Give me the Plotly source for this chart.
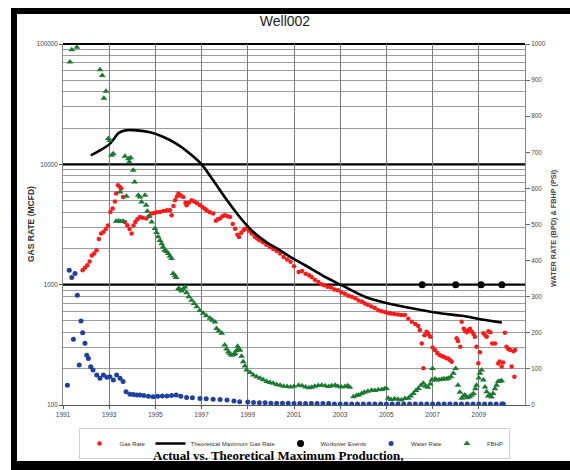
import plotly.graph_objects as go

# ---------------- data ----------------
gas_years = [1991.85, 1991.95, 1992.05, 1992.15, 1992.25, 1992.35, 1992.45, 1992.55, 1992.65, 1992.75,
             1992.85, 1992.95, 1993.05, 1993.15, 1993.25, 1993.3, 1993.38, 1993.45, 1993.52, 1993.6,
             1993.68, 1993.78, 1993.88, 1993.97, 1994.05, 1994.13, 1994.22, 1994.33, 1994.45, 1994.6,
             1994.72, 1994.84, 1994.95, 1995.05, 1995.2, 1995.35, 1995.5, 1995.63, 1995.7, 1995.78,
             1995.85, 1995.93, 1996.0, 1996.1, 1996.2, 1996.3, 1996.35, 1996.45, 1996.57, 1996.68,
             1996.8, 1996.93, 1997.05, 1997.15, 1997.22, 1997.35, 1997.5, 1997.62, 1997.7, 1997.8,
             1997.9, 1998.0, 1998.12, 1998.23, 1998.35, 1998.45, 1998.55, 1998.62, 1998.72, 1998.82,
             1998.9, 1999.05, 1999.17, 1999.3, 1999.4, 1999.5, 1999.65, 1999.8, 1999.96, 2000.1,
             2000.25, 2000.4, 2000.55, 2000.7, 2000.85, 2001.0, 2001.2, 2001.35, 2001.5, 2001.65,
             2001.76, 2001.9, 2002.05, 2002.2, 2002.3, 2002.45, 2002.6, 2002.75, 2002.9, 2003.05,
             2003.2, 2003.35, 2003.5, 2003.65, 2003.8, 2003.95, 2004.07, 2004.2, 2004.35, 2004.5,
             2004.65, 2004.8, 2004.95, 2005.1, 2005.2, 2005.35, 2005.5, 2005.65, 2005.8, 2005.95,
             2006.1, 2006.25, 2006.38, 2006.45, 2006.53, 2006.6, 2006.65, 2006.74, 2006.82, 2006.9,
             2007.0, 2007.1, 2007.2, 2007.3, 2007.4, 2007.5, 2007.6, 2007.68, 2007.76, 2007.83,
             2008.04, 2008.1, 2008.2, 2008.26, 2008.35, 2008.42, 2008.48, 2008.55, 2008.62, 2008.7,
             2008.77, 2008.83, 2008.9, 2008.98, 2009.05, 2009.2, 2009.27, 2009.34, 2009.42, 2009.5,
             2009.58, 2009.7, 2009.84, 2009.9, 2009.99, 2010.05, 2010.13, 2010.2, 2010.28, 2010.35,
             2010.42, 2010.5, 2010.57, 2010.54]
gas_rate = [1320, 1380, 1450, 1560, 1750, 1815, 1930, 2400, 2660, 2740,
            2900, 3100, 4020, 4290, 4900, 5710, 6700, 6500, 6290, 5350,
            3320, 3120, 2900, 2660, 3100, 3320, 3500, 3650, 3600, 3540,
            3700, 3900, 3950, 4000, 4020, 4100, 4150, 4150, 3770, 4500,
            5030, 5400, 5710, 5500, 5350, 4800, 4570, 4800, 5030, 4900,
            4750, 4570, 4400, 4250, 4150, 4000, 3900, 3400, 3500, 3540,
            3700, 3770, 3700, 3650, 3200, 2920, 2600, 2490, 2700, 2850,
            2920, 2800, 2660, 2500, 2420, 2340, 2250, 2150, 2060, 1980,
            1900, 1815, 1700, 1620, 1550, 1420, 1277, 1300, 1230, 1200,
            1160, 1100, 1050, 1010, 990, 960, 950, 910, 900, 860,
            840, 810, 793, 770, 740, 720, 698, 680, 660, 640,
            614, 600, 590, 580, 577, 570, 565, 560, 559, 520,
            491, 470, 453, 420, 325, 202, 380, 407, 390, 369,
            300, 286, 270, 260, 255, 250, 245, 244, 236, 229,
            358, 340, 305, 491, 430, 410, 402, 420, 430, 407,
            390, 369, 305, 222, 275, 395, 381, 369, 410, 402,
            325, 325, 221, 230, 209, 225, 398, 305, 292, 288,
            209, 280, 286, 172]

theo_years = [1992.2, 1992.6, 1993.0, 1993.18, 1993.4, 1993.7, 1994.2, 1994.77, 1995.35, 1995.9,
              1996.5, 1997.0, 1997.5, 1998.1, 1998.65, 1999.24, 1999.8, 2000.4, 2000.8, 2001.48,
              2002.34, 2003.06, 2004.07, 2005.08, 2006.38, 2007.4, 2008.26, 2009.12, 2010.0]
theo_rate = [11880, 13070, 14650, 16030, 18180, 19150, 19150, 18440, 16860, 14860,
             12270, 10000, 7360, 5030, 3650, 2740, 2260, 1930, 1720, 1450,
             1160, 990, 793, 698, 622, 576, 551, 514, 485]

work_years = [2006.55, 2008.0, 2009.1, 2010.0]
work_rate = [1000, 1000, 1000, 1000]

water_years = [1991.19, 1991.27, 1991.38, 1991.45, 1991.52, 1991.62, 1991.7, 1991.78, 1991.85, 1991.95,
               1992.03, 1992.1, 1992.2, 1992.3, 1992.46, 1992.6, 1992.75, 1992.9, 1993.03, 1993.18,
               1993.32, 1993.47, 1993.6, 1993.73, 1993.9, 1994.05, 1994.2, 1994.33, 1994.5, 1994.7,
               1994.9, 1995.1, 1995.3, 1995.5, 1995.7, 1995.9, 1996.1, 1996.35, 1996.6, 1996.93,
               1997.2, 1997.5, 1997.8, 1998.1, 1998.4, 1998.65, 1999.0, 1999.25, 1999.5, 1999.75,
               2000.0, 2000.25, 2000.5, 2000.75, 2001.0, 2001.25, 2001.5, 2001.75, 2002.0, 2002.25,
               2002.5, 2002.75, 2003.0, 2003.25, 2003.5, 2003.75, 2004.0, 2004.25, 2004.5, 2004.75,
               2005.0, 2005.25, 2005.5, 2005.75, 2006.0, 2006.25, 2006.5, 2006.75, 2007.0, 2007.25,
               2007.5, 2007.75, 2008.0, 2008.25, 2008.5, 2008.75, 2009.0, 2009.25, 2009.5, 2009.75,
               2010.0, 2010.06]
water_rate = [55, 373, 353, 182, 364, 304, 111, 233, 200, 171,
              138, 129, 106, 97, 83, 74, 83, 77, 78, 69,
              83, 74, 65, 37, 30, 29, 28, 28, 26, 24,
              23, 24, 25, 25, 26, 28, 24, 21, 20, 18,
              17, 16, 15, 14, 11, 9, 8, 7, 6, 6,
              5, 5, 5, 5, 4, 4, 4, 4, 4, 4,
              4, 3, 3, 3, 3, 3, 3, 3, 3, 3,
              3, 3, 3, 3, 3, 3, 3, 3, 3, 3,
              3, 3, 3, 3, 3, 3, 3, 3, 3, 3,
              3, 3]

fbhp_years = [1991.3, 1991.38, 1991.6, 1992.6, 1992.7, 1992.77, 1992.86, 1992.96, 1993.03, 1993.1,
              1993.18, 1993.3, 1993.4, 1993.47, 1993.5, 1993.6, 1993.68, 1993.75, 1993.83, 1993.87,
              1993.93, 1994.04, 1994.1, 1994.26, 1994.33, 1994.4, 1994.55, 1994.6, 1994.65, 1994.74,
              1994.84, 1994.98, 1995.05, 1995.12, 1995.2, 1995.27, 1995.33, 1995.4, 1995.48, 1995.56,
              1995.63, 1995.7, 1995.77, 1995.85, 1995.9, 1996.0, 1996.07, 1996.14, 1996.21, 1996.28,
              1996.35, 1996.45, 1996.57, 1996.68, 1996.79, 1996.92, 1997.07, 1997.2, 1997.36, 1997.47,
              1997.58, 1997.65, 1997.75, 1997.87, 1998.0, 1998.08, 1998.16, 1998.23, 1998.3, 1998.38,
              1998.45, 1998.5, 1998.56, 1998.61, 1998.66, 1998.73, 1998.8, 1998.88, 1998.95, 1999.1,
              1999.24, 1999.38, 1999.53, 1999.67, 1999.82, 1999.96, 2000.1, 2000.25, 2000.4, 2000.55,
              2000.7, 2000.85, 2001.0, 2001.2, 2001.35, 2001.5, 2001.65, 2001.77, 2001.9, 2002.05,
              2002.2, 2002.35, 2002.5, 2002.63, 2002.78, 2002.9, 2003.05, 2003.2, 2003.32, 2003.42,
              2003.57, 2003.7, 2003.8, 2003.93, 2004.05, 2004.2, 2004.36, 2004.5, 2004.65, 2004.8,
              2004.92, 2005.0, 2005.08, 2005.2, 2005.35, 2005.5, 2005.65, 2005.8, 2005.95, 2006.05,
              2006.17, 2006.28, 2006.38, 2006.5, 2006.6, 2006.7, 2006.8, 2006.9, 2006.96, 2007.0,
              2007.1, 2007.17, 2007.28, 2007.4, 2007.5, 2007.6, 2007.68, 2007.8, 2007.9, 2008.0,
              2008.1, 2008.18, 2008.26, 2008.33, 2008.4, 2008.5, 2008.6, 2008.68, 2008.77, 2008.85,
              2008.9, 2009.0, 2009.05, 2009.12, 2009.2, 2009.27, 2009.34, 2009.41, 2009.48, 2009.55,
              2009.62, 2009.7, 2009.77, 2009.84, 2009.92, 2009.99]
fbhp = [950, 984, 991, 929, 913, 850, 869, 738, 733, 692,
        696, 509, 510, 590, 508, 509, 689, 578, 682, 673,
        685, 650, 618, 581, 576, 562, 581, 553, 537, 523,
        507, 489, 478, 466, 456, 447, 438, 429, 425, 420,
        412, 406, 364, 358, 353, 323, 320, 316, 322, 327,
        311, 300, 290, 281, 272, 262, 254, 247, 240, 235,
        230, 212, 205, 199, 166, 155, 147, 142, 138, 140,
        143, 150, 163, 155, 152, 135, 120, 108, 97, 90,
        83, 78, 74, 70, 65, 62, 60, 57, 55, 52,
        51, 50, 52, 55, 53, 50, 48, 49, 52, 54,
        55, 53, 51, 53, 55, 52, 50, 51, 53, 49,
        23, 26, 28, 32, 35, 38, 41, 40, 42, 43,
        45, 46, 19, 15, 17, 16, 14, 18, 19, 25,
        32, 40, 46, 55, 60, 52, 49, 58, 69, 101,
        72, 69, 70, 71, 73, 72, 74, 78, 88, 101,
        55, 35, 19, 24, 28, 20, 23, 27, 32, 45,
        55, 75, 88, 97, 69, 50, 37, 25, 28, 22,
        32, 45, 55, 65, 66, 67]

x_ticks = [1991, 1993, 1995, 1997, 1999, 2001, 2003, 2005, 2007, 2009]
y_ticks = [100, 1000, 10000, 100000]
y_minor = [m * 10 ** e for e in (2, 3, 4) for m in range(2, 10)]
y2_ticks = [0, 100, 200, 300, 400, 500, 600, 700, 800, 900, 1000]

FONT = "Arial, Liberation Sans, sans-serif"

fig = go.Figure()
fig.add_trace(go.Scatter(x=gas_years, y=gas_rate, mode="markers", name="Gas Rate",
                         marker=dict(color="#ff1a1a", size=4.5, symbol="circle")))
fig.add_trace(go.Scatter(x=theo_years, y=theo_rate, mode="lines", name="Theoretical Maximum Gas Rate",
                         line=dict(color="black", width=2.6, shape="spline")))
fig.add_trace(go.Scatter(x=work_years, y=work_rate, mode="markers", name="Workover Events",
                         marker=dict(color="black", size=7, symbol="circle")))
fig.add_trace(go.Scatter(x=water_years, y=water_rate, mode="markers", name="Water Rate", yaxis="y2",
                         marker=dict(color="#2040a0", size=5, symbol="circle")))
fig.add_trace(go.Scatter(x=fbhp_years, y=fbhp, mode="markers", name="FBHP", yaxis="y2",
                         marker=dict(color="#1a7a30", size=6, symbol="triangle-up")))

# heavy black decade lines at 1000, 10000, 100000 (fractions of the 3-decade log axis)
shapes = []
for frac in (1 / 3, 2 / 3, 1.0):
    shapes.append(dict(type="line", xref="x domain", yref="y domain", x0=0, x1=1, y0=frac, y1=frac,
                       line=dict(color="black", width=2.2), layer="below"))

# outer black frame
W, H = 570, 470
L, R, T, B = 63, 45, 44, 65
PW, PH = W - L - R, H - T - B


def px_x(p):
    return (p - L) / PW


def px_y(p):
    return (H - B - p) / PH


frame = [
    (11, 8, 570, 14),     # top band
    (11, 14, 17, 461),    # left band
    (11, 461, 570, 470),  # bottom band
]
for x0, y0, x1, y1 in frame:
    shapes.append(dict(type="rect", xref="paper", yref="paper",
                       x0=px_x(x0), x1=px_x(x1), y0=px_y(y1), y1=px_y(y0),
                       fillcolor="black", line=dict(width=0), layer="above"))

fig.update_layout(
    width=W, height=H,
    margin=dict(l=L, r=R, t=T, b=B, autoexpand=False),
    paper_bgcolor="white", plot_bgcolor="white",
    font=dict(family=FONT, color="#333"),
    title=dict(text="Well002", x=0.5, xanchor="center", xref="container",
               y=1 - 21 / 470, yanchor="middle",
               font=dict(family=FONT, size=14, color="#222")),
    showlegend=True,
    legend=dict(orientation="h", x=px_x(294), xanchor="center", y=px_y(428), yanchor="top",
                font=dict(family=FONT, size=6, color="#333"),
                bgcolor="white", bordercolor="#d0d0d0", borderwidth=1,
                itemwidth=30, tracegroupgap=0),
    xaxis=dict(range=[1991, 2011], tickmode="array", tickvals=x_ticks,
               ticktext=[str(v) for v in x_ticks],
               showgrid=True, gridcolor="#7a7a7a", gridwidth=1.2,
               showline=True, linecolor="#555", linewidth=1,
               ticks="outside", ticklen=3, tickcolor="#555",
               tickfont=dict(family=FONT, size=6.5, color="#444"), zeroline=False),
    yaxis=dict(type="log", range=[2, 5], tickmode="array", tickvals=y_ticks,
               ticktext=[str(v) for v in y_ticks],
               showgrid=False, showline=True, linecolor="#888", linewidth=1,
               ticks="outside", ticklen=3, tickcolor="#555",
               tickfont=dict(family=FONT, size=6.3, color="#444"),
               minor=dict(tickmode="array", tickvals=y_minor, showgrid=True,
                          gridcolor="#9c9c9c", gridwidth=1, ticks=""),
               zeroline=False),
    yaxis2=dict(overlaying="y", side="right", range=[0, 1000], tickmode="array",
                tickvals=y2_ticks, ticktext=[str(v) for v in y2_ticks],
                showgrid=False, showline=True, linecolor="#888", linewidth=1.2,
                ticks="outside", ticklen=4, tickcolor="#666",
                tickfont=dict(family=FONT, size=6.3, color="#444"), zeroline=False),
    shapes=shapes,
    annotations=[
        dict(text="<b>GAS RATE (MCFD)</b>", xref="paper", yref="paper",
             x=px_x(31), y=px_y(224), xanchor="center", yanchor="middle",
             textangle=-90, showarrow=False,
             font=dict(family=FONT, size=8.5, color="#333")),
        dict(text="<b>WATER RATE (BPD) & FBHP (PSI)</b>", xref="paper", yref="paper",
             x=px_x(553), y=px_y(228), xanchor="center", yanchor="middle",
             textangle=-90, showarrow=False,
             font=dict(family=FONT, size=7.3, color="#444")),
        dict(text="<b>Actual vs. Theoretical Maximum Production,</b>", xref="paper", yref="paper",
             x=px_x(278), y=px_y(455), xanchor="center", yanchor="middle", showarrow=False,
             font=dict(family="Times New Roman, Liberation Serif, serif", size=13, color="black")),
    ],
)

fig.write_html(
    "out.html",
    config={"displayModeBar": False},
    post_script="document.documentElement.style.overflow='hidden';"
                "document.body.style.overflow='hidden';document.body.style.margin='0';",
)
